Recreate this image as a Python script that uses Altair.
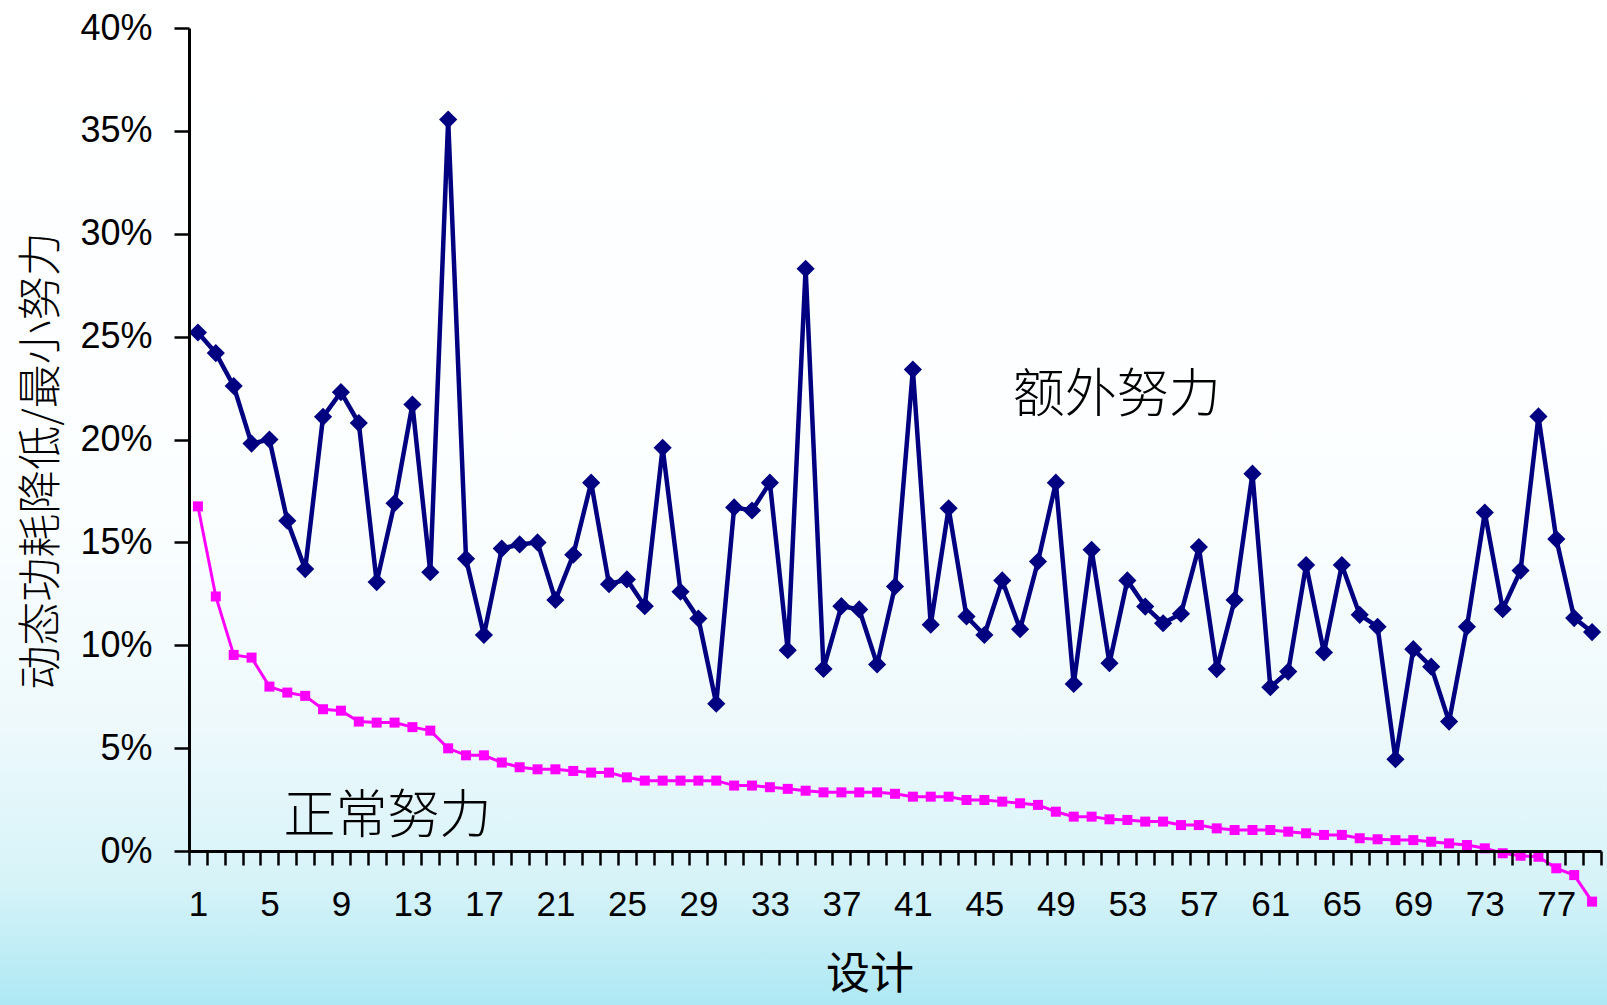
import altair as alt
import pandas as pd

# Design index (x categories)
designs = list(range(1, 80))

# Dynamic power reduction / minimum effort, in percent
extra_effort = [
    25.2, 24.2, 22.6, 19.8, 20.0, 16.05, 13.7, 21.1, 22.3, 20.8,
    13.07, 16.9, 21.7, 13.55, 35.55, 14.2, 10.5, 14.7, 14.9, 15.0,
    12.2, 14.4, 17.9, 12.97, 13.2, 11.9, 19.6, 12.6, 11.3, 7.16,
    16.7, 16.55, 17.9, 9.76, 28.3, 8.85, 11.9, 11.74, 9.07, 12.86,
    23.4, 11.0, 16.66, 11.4, 10.5, 13.15, 10.78, 14.07, 17.9, 8.12,
    14.64, 9.13, 13.15, 11.88, 11.07, 11.53, 14.77, 8.84, 12.2, 18.34,
    7.96, 8.72, 13.9, 9.65, 13.9, 11.48, 10.9, 4.46, 9.81, 8.96,
    6.29, 10.9, 16.45, 11.75, 13.63, 21.12, 15.16, 11.32, 10.64,
]
normal_effort = [
    16.75, 12.37, 9.53, 9.40, 7.99, 7.70, 7.54, 6.89, 6.82, 6.29,
    6.24, 6.24, 6.02, 5.85, 4.99, 4.65, 4.65, 4.30, 4.07, 3.97,
    3.97, 3.89, 3.81, 3.81, 3.58, 3.42, 3.42, 3.42, 3.42, 3.42,
    3.18, 3.18, 3.10, 3.02, 2.93, 2.85, 2.85, 2.85, 2.85, 2.78,
    2.64, 2.64, 2.64, 2.48, 2.48, 2.40, 2.32, 2.24, 1.91, 1.67,
    1.67, 1.54, 1.51, 1.43, 1.43, 1.26, 1.26, 1.10, 1.02, 1.02,
    1.02, 0.94, 0.86, 0.78, 0.78, 0.62, 0.57, 0.53, 0.53, 0.45,
    0.37, 0.29, 0.13, -0.11, -0.23, -0.28, -0.84, -1.17, -2.46,
]
y_ticks = [0, 5, 10, 15, 20, 25, 30, 35, 40]
x_labels = [1, 5, 9, 13, 17, 21, 25, 29, 33, 37, 41, 45, 49, 53, 57, 61, 65, 69, 73, 77]

series_labels = ["额外努力", "正常努力"]
y_title = "动态功耗降低/最小努力"
x_title = "设计"

# Plot-area geometry (canvas is 1607 x 1005)
W, H = 1412, 823
PAD_L, PAD_T, PAD_R, PAD_B = 189, 28, 6, 154

cjk = "Noto Sans CJK SC"
latin = "Liberation Sans"

extra_df = pd.DataFrame({"design": designs, "value": extra_effort})
normal_df = pd.DataFrame({"design": designs, "value": normal_effort})

x_scale = alt.Scale(domain=[0.5, len(designs) + 0.5], nice=False, zero=False)
y_scale = alt.Scale(domain=[0, 40], nice=False, zero=False)

# Category axis: ticks sit between designs, labels under every 4th design
x_tick_axis = alt.Axis(
    orient="bottom",
    values=[d - 0.5 for d in designs] + [len(designs) + 0.5],
    labels=False,
    tickSize=14,
    tickWidth=2.5,
    tickColor="black",
    domainColor="black",
    domainWidth=3,
    grid=False,
    title=None,
    zindex=1,
)
x_label_axis = alt.Axis(
    orient="bottom",
    values=x_labels,
    format="d",
    ticks=False,
    tickSize=0,
    domain=False,
    labelFont=latin,
    labelFontSize=35,
    labelColor="black",
    labelPadding=36,
    labelFlush=False,
    labelOverlap=False,
    labelBound=False,
    grid=False,
    title=None,
    zindex=1,
)
y_axis = alt.Axis(
    values=y_ticks,
    labelExpr="datum.value + '%'",
    labelFont=latin,
    labelFontSize=36,
    labelColor="black",
    labelPadding=22,
    tickSize=15,
    tickWidth=2.5,
    tickColor="black",
    domainColor="black",
    domainWidth=3,
    grid=False,
    title=None,
    zindex=1,
)

# Soft white-to-cyan backdrop across the whole canvas
background = alt.Chart(pd.DataFrame({"bg": [0]})).mark_rect(
    fill=alt.Gradient(
        gradient="linear",
        x1=0, y1=0, x2=0, y2=1,
        stops=[
            alt.GradientStop(color="#ffffff", offset=0),
            alt.GradientStop(color="#fbfeff", offset=0.5),
            alt.GradientStop(color="#eef9fc", offset=0.72),
            alt.GradientStop(color="#d6f3f8", offset=0.88),
            alt.GradientStop(color="#aee8f4", offset=1),
        ],
    ),
    strokeWidth=0,
).encode(
    x=alt.value(-PAD_L),
    x2=alt.value(W + PAD_R),
    y=alt.value(-PAD_T),
    y2=alt.value(H + PAD_B),
)

extra_line = alt.Chart(extra_df).mark_line(
    color="#000080",
    strokeWidth=4.5,
    point=alt.OverlayMarkDef(shape="diamond", size=330, filled=True, color="#000080"),
).encode(
    x=alt.X("design:Q", scale=x_scale, axis=x_tick_axis),
    y=alt.Y("value:Q", scale=y_scale, axis=y_axis),
)

normal_line = alt.Chart(normal_df).mark_line(
    color="#ff00ff",
    strokeWidth=3,
    point=alt.OverlayMarkDef(shape="square", size=100, filled=True, color="#ff00ff"),
).encode(
    x=alt.X("design:Q", scale=x_scale, axis=x_label_axis),
    y=alt.Y("value:Q", scale=y_scale, axis=y_axis),
)

extra_label = alt.Chart(pd.DataFrame({"label": [series_labels[0]]})).mark_text(
    font=cjk, fontSize=52, fontWeight=300, color="black", align="center", baseline="middle"
).encode(x=alt.datum(52.4), y=alt.datum(22.1), text="label:N")

normal_label = alt.Chart(pd.DataFrame({"label": [series_labels[1]]})).mark_text(
    font=cjk, fontSize=52, fontWeight=300, color="black", align="center", baseline="middle"
).encode(x=alt.datum(11.6), y=alt.datum(1.65), text="label:N")

y_title_text = alt.Chart(pd.DataFrame({"label": [y_title]})).mark_text(
    font=cjk, fontSize=44, fontWeight=300, color="black", align="center", baseline="middle", angle=270
).encode(x=alt.value(-146), y=alt.value(433), text="label:N")

x_title_text = alt.Chart(pd.DataFrame({"label": [x_title]})).mark_text(
    font=cjk, fontSize=44, color="black", align="center", baseline="middle"
).encode(x=alt.value(681), y=alt.value(948), text="label:N")

chart = alt.layer(
    background, extra_line, normal_line, extra_label, normal_label, y_title_text, x_title_text
).resolve_axis(
    x="independent"
).properties(
    width=W,
    height=H,
    autosize=alt.AutoSizeParams(type="none"),
    padding={"left": PAD_L, "top": PAD_T, "right": PAD_R, "bottom": PAD_B},
    background="white",
).configure_view(stroke=None)

chart.save("out.html", embed_options={"renderer": "svg", "actions": False})
